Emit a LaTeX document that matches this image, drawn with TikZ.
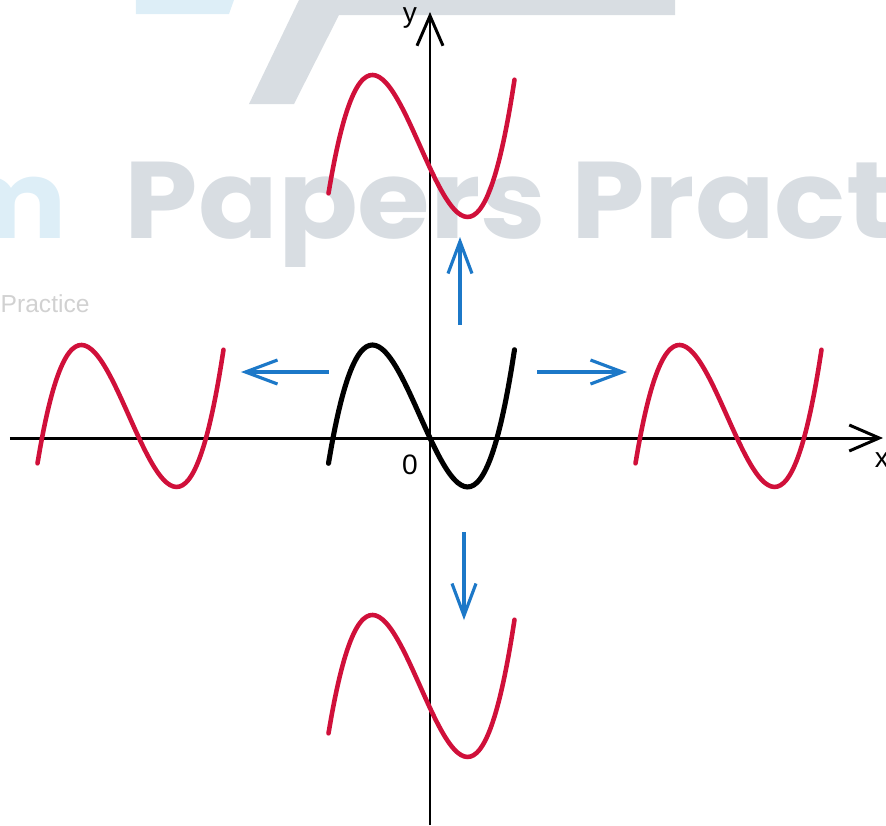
\documentclass[tikz,border=0pt]{standalone}
\usepackage{fontspec}
\setsansfont{Liberation Sans}
\newfontfamily\wmfont{Poppins}[FakeStretch=1.08]
\definecolor{epred}{RGB}{208,16,58}
\definecolor{epblue}{RGB}{28,120,200}
\definecolor{wmgray}{RGB}{216,221,226}
\definecolor{wmblue}{RGB}{221,238,247}
\usetikzlibrary{arrows.meta}
\tikzset{
  axis/.style={line width=0.85pt,-{Straight Barb[length=3mm,width=2.6mm]}},
  arr/.style={line width=0.9pt,epblue,-{Straight Barb[length=3.2mm,width=2.4mm]}},
  curve/.style={line width=#1,smooth,samples=60,domain=-1.015:0.845,line cap=round},
  curve/.default=1.3pt,
  lbl/.style={font=\sffamily\fontsize{8}{8}\selectfont,inner sep=0pt},
  wm/.style={inner sep=0pt,font=\wmfont\bfseries\fontsize{31}{31}\selectfont},
}
\begin{document}
\begin{tikzpicture}[declare function={cub(\x)=3.29*\x*(\x+0.97)*(\x-0.67);}]
  \useasboundingbox (-4.30,-3.87) rectangle (4.56,4.38);

  % watermark
  \fill[wmblue] (-2.94,4.38) -- (-2.94,4.24) -- (-2.01,4.24) -- (-1.96,4.38) -- cycle;
  \fill[wmgray] (-1.81,3.34) -- (-1.36,3.34) -- (-0.91,4.23) -- (2.45,4.23)
                -- (2.45,4.38) -- (-1.31,4.38) -- cycle;
  \node[wm,anchor=base east,wmblue] (wmm) at (-3.62,2.00) {m};
  \node[wm,anchor=base west,wmgray] (wmark) at (-3.06,2.00) {Papers Pract};
  \node[anchor=base west,inner sep=0pt,black!18,
        font=\sffamily\fontsize{7}{7}\selectfont] (wmsmall) at (-4.30,1.26) {Practice};

  % axes
  \coordinate (xl) at (-4.20,0);
  \coordinate (xr) at (4.53,0);
  \coordinate (yb) at (0,-3.87);
  \coordinate (yt) at (0,4.26);
  \draw[axis] (xl) -- (xr);
  \draw[axis] (yb) -- (yt);
  \node[lbl] (xlab) at (4.52,-0.22) {x};
  \node[lbl] (ylab) at (-0.20,4.20) {y};
  \node[lbl] (olab) at (-0.20,-0.27) {0};

  % translated copies
  \foreach \dx/\dy in {0/2.70, 0/-2.70, -2.91/0, 3.07/0}{
    \draw[curve,epred,shift={(\dx,\dy)}] plot (\x,{cub(\x)});
  }
  % original curve
  \draw[curve=1.45pt,black] plot (\x,{cub(\x)});

  % movement arrows
  \coordinate (upT) at (0.30,1.13);  \coordinate (upH) at (0.30,2.01);
  \coordinate (dnT) at (0.34,-0.94); \coordinate (dnH) at (0.34,-1.82);
  \coordinate (lfT) at (-1.01,0.66); \coordinate (lfH) at (-1.89,0.66);
  \coordinate (rtT) at (1.07,0.66);  \coordinate (rtH) at (1.97,0.66);
  \foreach \a in {up,dn,lf,rt}
    \draw[arr] (\a T) -- (\a H);
\end{tikzpicture}
\end{document}
